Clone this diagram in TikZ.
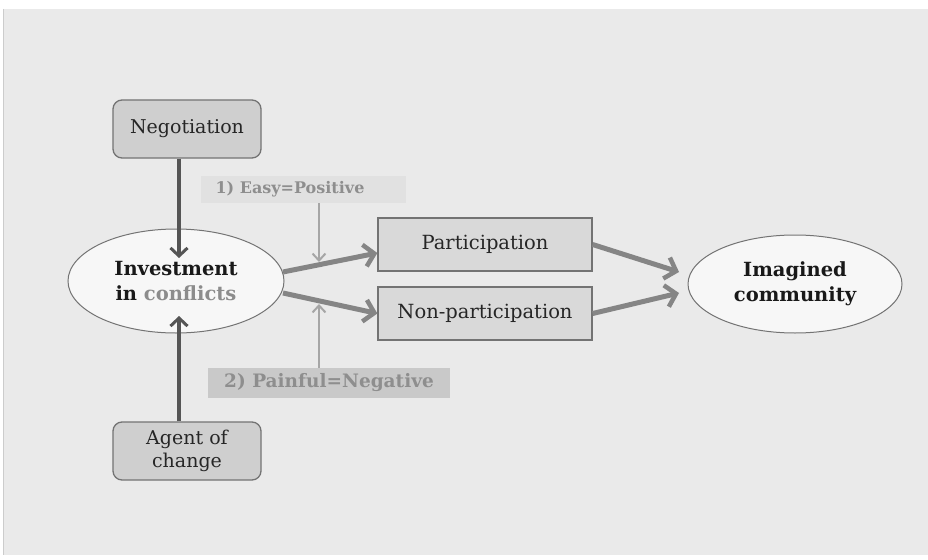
\documentclass[tikz,border=0pt]{standalone}
\usepackage{fontspec}
\setmainfont{DejaVu Serif}
\usetikzlibrary{arrows.meta,shapes.geometric}
\definecolor{bgc}{HTML}{EAEAEA}
\definecolor{boxfill}{HTML}{D9D9D9}
\definecolor{roundfill}{HTML}{CFCFCF}
\definecolor{edgec}{HTML}{737373}
\definecolor{ellfill}{HTML}{F7F7F7}
\definecolor{darkarr}{HTML}{555555}
\definecolor{midarr}{HTML}{858585}
\definecolor{lightarr}{HTML}{A6A6A6}
\definecolor{labone}{HTML}{E1E1E1}
\definecolor{labtwo}{HTML}{C9C9C9}
\definecolor{labtxt}{HTML}{8E8E8E}
\definecolor{conf}{HTML}{8C8C8C}
\tikzset{
  roundbox/.style={draw=edgec, line width=1.3pt, fill=roundfill, rounded corners=9pt,
    minimum width=148pt, minimum height=58pt, inner sep=0pt, align=center,
    font=\fontsize{19}{23}\selectfont, text=black!85},
  rectbox/.style={draw=edgec, line width=1.3pt, fill=boxfill,
    minimum width=214pt, minimum height=53pt, inner sep=0pt, align=center,
    font=\fontsize{19.5}{23}\selectfont, text=black!85},
  ellbox/.style={ellipse, draw=edgec, line width=1pt, fill=ellfill, inner sep=0pt,
    align=center, font=\bfseries\fontsize{19.5}{25}\selectfont, text=black!90},
  labelbox/.style={inner sep=0pt, text=labtxt},
  darkarrow/.style={draw=darkarr, line width=3.5pt,
    -{Straight Barb[length=8pt,width=17pt,line width=3pt]}},
  midarrow/.style={draw=midarr, line width=5pt,
    -{Straight Barb[length=10pt,width=22pt,line width=4.5pt]}},
  lightarrow/.style={draw=lightarr, line width=2pt,
    -{Straight Barb[length=7pt,width=13pt,line width=2pt]}}
}
\begin{document}
\begin{tikzpicture}[x=1pt,y=-1pt]
\useasboundingbox (0,0) rectangle (928,559);
\fill[white] (0,0) rectangle (928,559);
\fill[bgc] (3,9) rectangle (928,555);
\draw[black!20, line width=0.6pt] (3,9) -- (3,555);

% nodes
\node[roundbox] (neg) at (187,129) {Negotiation};
\node[roundbox] (agent) at (187,451) {Agent of\\change};
\node[ellbox, minimum width=216pt, minimum height=104pt] (inv) at (176,281)
  {Investment\\in \textcolor{conf}{conflicts}};
\node[ellbox, minimum width=214pt, minimum height=98pt] (imag) at (795,284)
  {Imagined\\community};
\node[rectbox] (part) at (485,244.5) {Participation};
\node[rectbox] (nonpart) at (485,313.5) {Non-participation};
\node[labelbox, fill=labone, minimum width=205pt, minimum height=27pt] (easy) at (303.5,189.5) {};
\node[labelbox, font=\bfseries\fontsize{16}{18}\selectfont] (easytext) at (290,189.5) {1) Easy=Positive};
\node[labelbox, fill=labtwo, minimum width=242pt, minimum height=30pt,
  font=\bfseries\fontsize{18.5}{21}\selectfont] (pain) at (329,383) {2) Painful=Negative};

% free ends
\coordinate (invtop) at (179,258);
\coordinate (invbot) at (179,316);
\coordinate (invr1) at (283,272);
\coordinate (invr2) at (283,293);
\coordinate (easytip) at (319,262);
\coordinate (paintip) at (319,304);
\coordinate (imagl1) at (679,272);
\coordinate (imagl2) at (679,293);

% connectors
\draw[darkarrow] ([xshift=-8pt]neg.south) -- (invtop);
\draw[darkarrow] ([xshift=-8pt]agent.north) -- (invbot);
\draw[midarrow] (invr1) -- ([yshift=-8.5pt]part.west);
\draw[midarrow] (invr2) -- (nonpart.west);
\draw[midarrow] (part.east) -- (imagl1);
\draw[midarrow] (nonpart.east) -- (imagl2);
\draw[lightarrow] ([xshift=15.5pt]easy.south) -- (easytip);
\draw[lightarrow] ([xshift=-10pt]pain.north) -- (paintip);
\end{tikzpicture}
\end{document}
